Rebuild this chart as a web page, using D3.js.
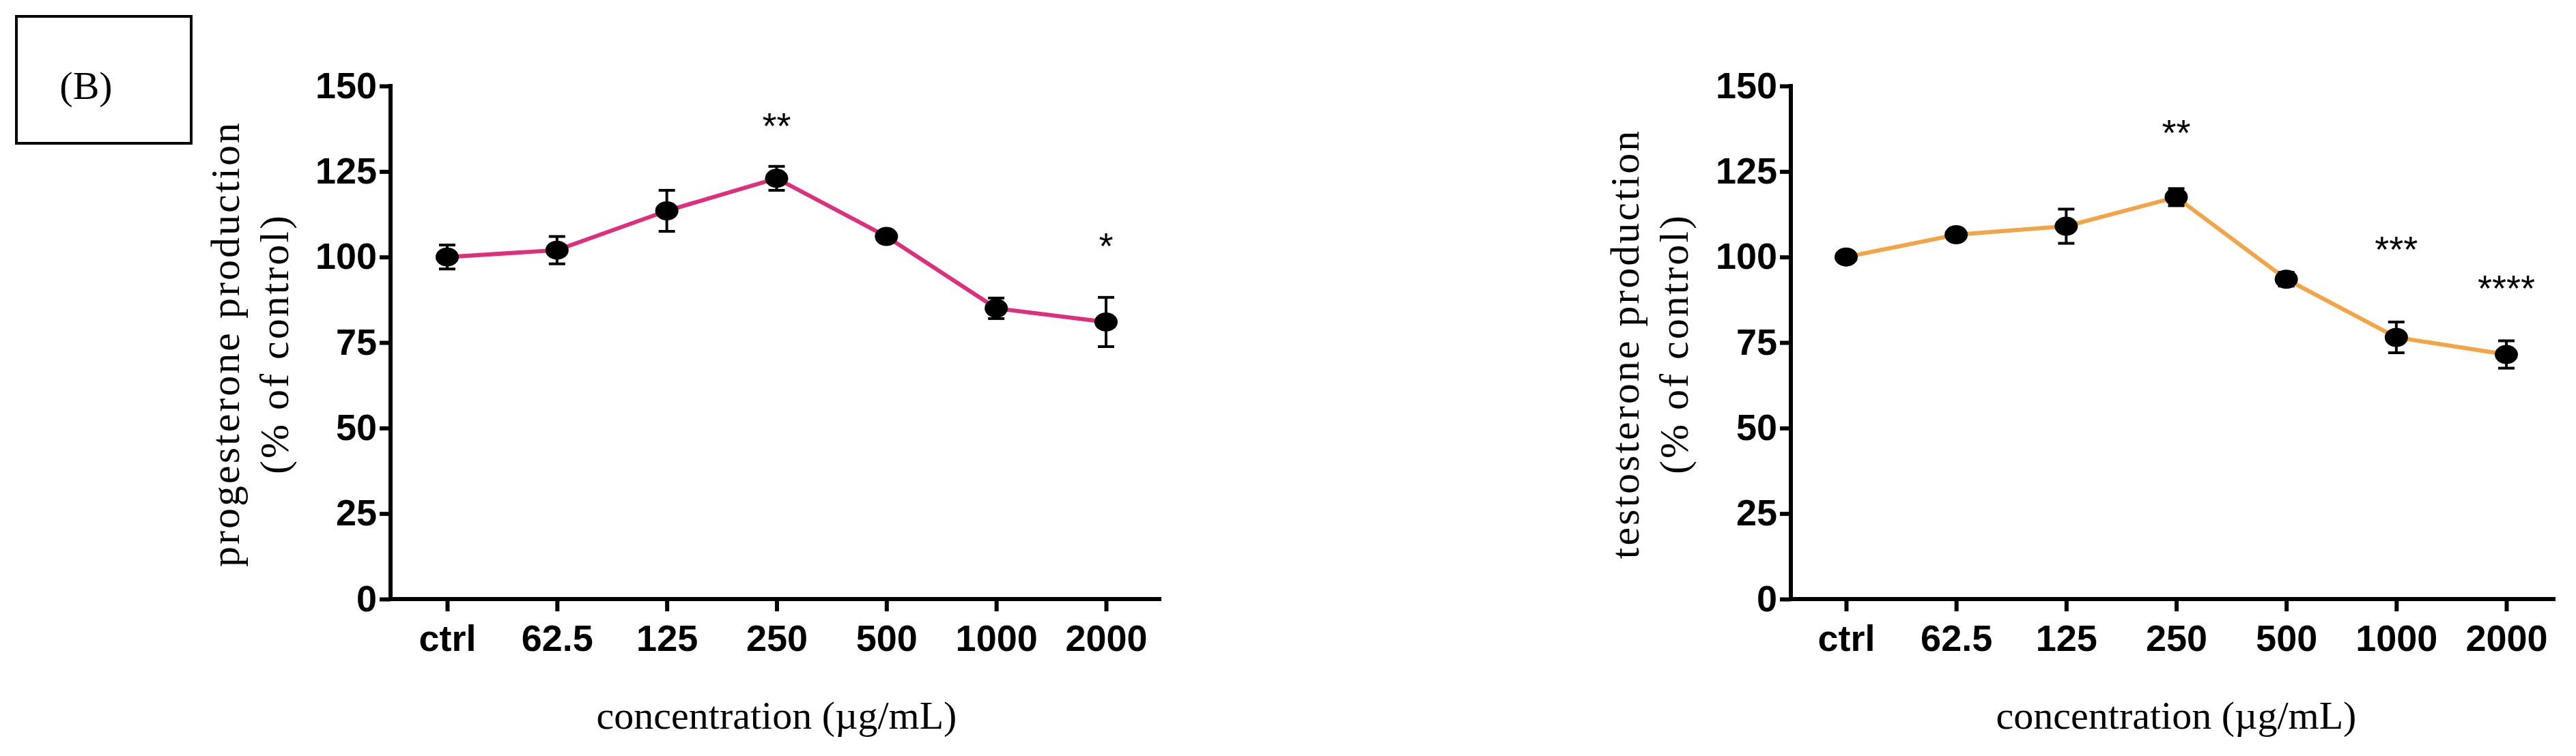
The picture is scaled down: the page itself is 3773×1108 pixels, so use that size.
<!DOCTYPE html>
<html><head><meta charset="utf-8">
<script src="https://cdn.jsdelivr.net/npm/d3@7"></script>
<style>body{margin:0;background:#fff}</style></head>
<body><script>
var categories = ["ctrl", "62.5", "125", "250", "500", "1000", "2000"];
var yTicks = [0, 25, 50, 75, 100, 125, 150];
var progMean = [100, 102, 113.5, 123, 106, 85, 81];
var progErr = [3.5, 4, 6, 3.5, 1.2, 3, 7.2];
var progStars = ["", "", "", "**", "", "", "*"];
var progStarY = [0, 0, 0, 139, 0, 0, 104];
var testMean = [100, 106.5, 109, 117.5, 93.5, 76.5, 71.5];
var testErr = [1, 1.5, 5, 2.5, 2, 4.5, 4];
var testStars = ["", "", "", "**", "", "***", "****"];
var testStarY = [0, 0, 0, 137, 0, 103, 91.5];

var W = 3773, H = 1108;
var svg = d3.select("body").append("svg").attr("width", W).attr("height", H);

// panel label box
svg.append("rect").attr("x", 24).attr("y", 24).attr("width", 256).attr("height", 186)
  .attr("fill", "none").attr("stroke", "#000").attr("stroke-width", 4);
svg.append("text").attr("x", 126).attr("y", 145).attr("text-anchor", "middle")
  .attr("font-family", "Liberation Serif").attr("font-size", 58).text("(B)");

function panel(ax0, ax1, first, last, mean, err, stars, starY, color, ylab, ylabX) {
  var x = d3.scalePoint().domain(categories).range([first, last]);
  var y = d3.scaleLinear().domain([0, 150]).range([878, 126]);
  var g = svg.append("g");

  var yAxis = g.append("g").attr("transform", "translate(" + ax0 + ",0)")
    .call(d3.axisLeft(y).tickValues(yTicks).tickSize(16).tickPadding(4));
  var xAxis = g.append("g").attr("transform", "translate(0,878)")
    .call(d3.axisBottom(x).tickSize(18).tickPadding(20));
  [yAxis, xAxis].forEach(function (a) {
    a.select(".domain").remove();
    a.selectAll("line").attr("stroke", "#000").attr("stroke-width", 6);
    a.selectAll("text").attr("font-family", "Liberation Sans Narrow, Liberation Sans")
      .attr("font-weight", "bold").attr("font-size", 54).attr("fill", "#000");
  });
  g.append("line").attr("x1", ax0).attr("x2", ax0).attr("y1", 123).attr("y2", 881)
    .attr("stroke", "#000").attr("stroke-width", 6);
  g.append("line").attr("x1", ax0 - 3).attr("x2", ax1).attr("y1", 878).attr("y2", 878)
    .attr("stroke", "#000").attr("stroke-width", 6);

  var line = d3.line().x(function (d, i) { return x(categories[i]); }).y(function (d) { return y(d); });
  g.append("path").datum(mean).attr("d", line).attr("fill", "none")
    .attr("stroke", color).attr("stroke-width", 6);

  mean.forEach(function (m, i) {
    var cx = x(categories[i]);
    var t = y(m + err[i]), b = y(m - err[i]);
    g.append("line").attr("x1", cx).attr("x2", cx).attr("y1", t).attr("y2", b).attr("stroke", "#000").attr("stroke-width", 4);
    [t, b].forEach(function (yy) {
      g.append("line").attr("x1", cx - 12).attr("x2", cx + 12).attr("y1", yy).attr("y2", yy).attr("stroke", "#000").attr("stroke-width", 4);
    });
    g.append("ellipse").attr("cx", cx).attr("cy", y(m)).attr("rx", 17).attr("ry", 14).attr("fill", "#000");
    if (stars[i]) {
      g.append("text").attr("x", cx).attr("y", y(starY[i]) + 22).attr("text-anchor", "middle")
        .attr("font-family", "Liberation Sans Narrow, Liberation Sans").attr("font-size", 54).text(stars[i]);
    }
  });

  var yl = g.append("text").attr("transform", "translate(" + ylabX + ",504) rotate(-90)")
    .attr("text-anchor", "middle").attr("font-family", "Liberation Serif").attr("font-size", 60)
    .attr("letter-spacing", 3);
  yl.append("tspan").attr("x", 0).attr("dy", 0).text(ylab);
  yl.append("tspan").attr("x", 0).attr("dy", 72).text("(% of control)");

  g.append("text").attr("x", (first + last) / 2).attr("y", 1068).attr("text-anchor", "middle")
    .attr("font-family", "Liberation Serif").attr("font-size", 58).text("concentration (\u00b5g/mL)");
}

panel(572, 1701, 655, 1620, progMean, progErr, progStars, progStarY, "#de2f7c", "progesterone production", 350);
panel(2623, 3743, 2704, 3671, testMean, testErr, testStars, testStarY, "#f2a446", "testosterone production", 2400);
</script></body></html>
